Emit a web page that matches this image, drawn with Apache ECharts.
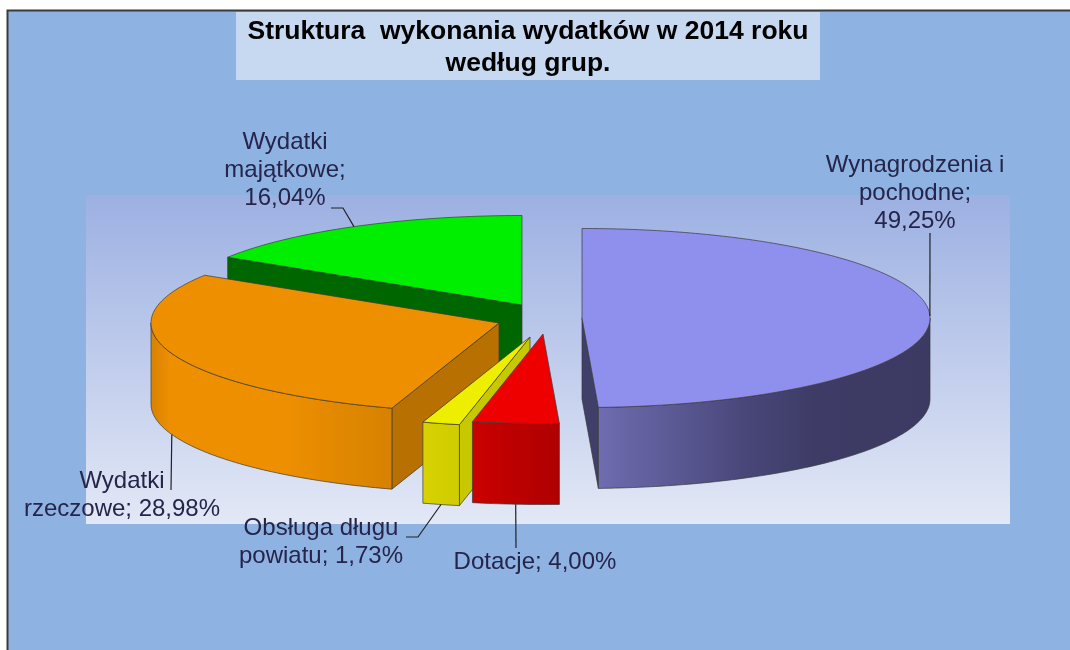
<!DOCTYPE html>
<html lang="pl">
<head>
<meta charset="utf-8">
<title>Struktura wykonania wydatków</title>
<style>html,body{margin:0;padding:0;background:#fff}#c{width:1070px;height:650px}</style>
<script src="https://cdn.jsdelivr.net/npm/echarts@6/dist/echarts.min.js"></script>
</head>
<body>
<div id="c"></div>
<script>
// --- data ---
const categories = ['Wynagrodzenia i pochodne', 'Dotacje', 'Obsługa długu powiatu', 'Wydatki rzeczowe', 'Wydatki majątkowe'];
const values = [49.25, 4.00, 1.73, 28.98, 16.04];
const labelLines = [
  ['Wynagrodzenia i', 'pochodne;', '49,25%'],
  ['Dotacje; 4,00%'],
  ['Obsługa długu', 'powiatu; 1,73%'],
  ['Wydatki', 'rzeczowe; 28,98%'],
  ['Wydatki', 'majątkowe;', '16,04%']
];
const titleText = 'Struktura  wykonania wydatków w 2014 roku\nwedług grup.';

// --- layout and styles ---
const RX = 348, RY = 89.5, DEPTH = 81;
const centers = [[582, 318], [543, 334], [530, 337], [499, 323], [522, 305]];
const drawOrder = [4, 3, 2, 1, 0];
const topColors = ['#8f8fee', '#ee0000', '#eeee00', '#ee8f00', '#00ee00'];
const cutColors = ['#3f3f6a', '#a80000', '#c8c800', '#b87000', '#006600'];
const wallStops = [
  [[0, '#6f6cb0'], [0.45, '#484678'], [0.65, '#3e3c66'], [1, '#3c3a62']],
  [[0, '#cc0000'], [0.5, '#bb0000'], [1, '#b00000']],
  [[0, '#d8d200'], [1, '#cfcc00']],
  [[0, '#d88200'], [0.08, '#ee8f00'], [0.55, '#ee8f00'], [1, '#d68200']],
  [[0, '#006600'], [1, '#006600']]
];
const leaderTails = [
  [[930, 233]],
  [[516, 548]],
  [[418, 537], [406, 537]],
  [[171, 490]],
  [[343, 208], [331, 208]]
];
const labelPos = [[915, 165], [535, 562], [321, 528], [122, 481], [285, 142]];
const LINE_H = 28;
const EDGE = '#3a3a3a', TXT = '#25254a', FONT = '"Liberation Sans", Arial, sans-serif';

const total = values.reduce((a, b) => a + b, 0);
const starts = [];
values.reduce((acc, v, i) => (starts[i] = acc, acc + v), 0);
const toRad = v => v / total * Math.PI * 2;
const onEllipse = (c, a, dy) => [c[0] + RX * Math.sin(a), c[1] - RY * Math.cos(a) + (dy || 0)];
function arc(c, a0, a1, dy) {
  const n = Math.max(2, Math.ceil((a1 - a0) * 60)), pts = [];
  for (let i = 0; i <= n; i++) pts.push(onEllipse(c, a0 + (a1 - a0) * i / n, dy));
  return pts;
}

function renderSlice(params, api) {
  const i = api.value(0), v = api.value(1);
  const c = centers[i], a0 = toRad(starts[i]), a1 = a0 + toRad(v);
  const kids = [];
  const line = { stroke: EDGE, lineWidth: 0.7, lineJoin: 'round' };
  const cutFace = a => {
    const p = onEllipse(c, a);
    kids.push({ type: 'polygon',
      shape: { points: [c, p, [p[0], p[1] + DEPTH], [c[0], c[1] + DEPTH]] },
      style: Object.assign({ fill: cutColors[i] }, line) });
  };
  // cut faces turned towards the viewer
  if (Math.sin(a0) < -1e-6) cutFace(a0);
  if (Math.sin(a1) > 1e-6) cutFace(a1);
  // outer wall (front half of the ellipse); gradient stops run left-to-right on screen
  const w0 = Math.max(a0, Math.PI / 2), w1 = Math.min(a1, Math.PI * 1.5);
  if (w1 > w0) {
    const upper = arc(c, w0, w1), lower = arc(c, w0, w1, DEPTH).reverse();
    const stops = wallStops[i].map(s => ({ offset: s[0], color: s[1] }));
    kids.push({ type: 'polygon', shape: { points: upper.concat(lower) },
      style: Object.assign({ fill: new echarts.graphic.LinearGradient(0, 0, 1, 0, stops) }, line) });
  }
  // top face
  kids.push({ type: 'polygon', shape: { points: [c].concat(arc(c, a0, a1)) },
    style: Object.assign({ fill: topColors[i] }, line) });
  return { type: 'group', children: kids };
}

function renderLabel(params, api) {
  const i = api.value(0), v = api.value(1);
  const c = centers[i], mid = toRad(starts[i]) + toRad(v) / 2;
  const front = Math.cos(mid) < 0;
  const anchor = onEllipse(c, mid, front ? DEPTH : 0);
  const kids = [{ type: 'polyline', shape: { points: [anchor].concat(leaderTails[i]) },
    style: { fill: 'none', stroke: '#222', lineWidth: 1.2 } }];
  labelLines[i].forEach((t, k) => kids.push({ type: 'text',
    style: { text: t, x: labelPos[i][0], y: labelPos[i][1] + k * LINE_H, align: 'center', verticalAlign: 'middle',
      fill: TXT, font: '24px ' + FONT } }));
  return { type: 'group', children: kids };
}

const sliceData = drawOrder.map(i => ({ name: categories[i], value: [i, values[i]] }));
const labelData = values.map((v, i) => ({ name: categories[i], value: [i, v] }));

const chart = echarts.init(document.getElementById('c'), null, { renderer: 'canvas' });
chart.setOption({
  animation: false,
  backgroundColor: '#ffffff',
  tooltip: { show: false },
  title: {
    text: titleText, left: 523, top: 11, textAlign: 'center',
    textStyle: { fontFamily: FONT, fontWeight: 'bold', fontSize: 26.5, lineHeight: 32, color: '#000' }
  },
  graphic: [
    { type: 'rect', z: -3, shape: { x: 7.5, y: 10.5, width: 1100, height: 700 },
      style: { fill: '#8eb2e2', stroke: '#3a3a3a', lineWidth: 2 } },
    { type: 'rect', z: -2, shape: { x: 236, y: 12, width: 584, height: 68 }, style: { fill: '#c6d9f1' } },
    { type: 'rect', z: -2, shape: { x: 86, y: 195, width: 924, height: 329 },
      style: { fill: new echarts.graphic.LinearGradient(0, 0, 0, 1, [
        { offset: 0, color: '#9cb0e2' }, { offset: 1, color: '#e3e8f6' }]) } }
  ],
  series: [
    { type: 'custom', coordinateSystem: 'none', silent: true, z: 3, renderItem: renderSlice, data: sliceData },
    { type: 'custom', coordinateSystem: 'none', silent: true, z: 4, renderItem: renderLabel, data: labelData }
  ]
});
</script>
</body>
</html>
